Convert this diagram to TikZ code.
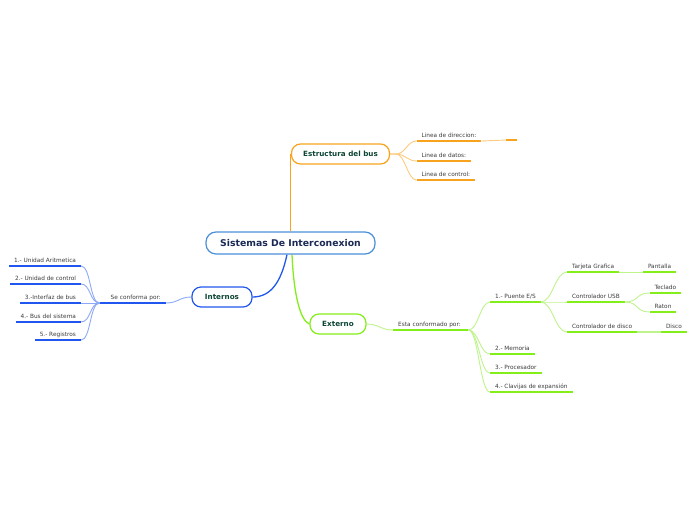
\documentclass[tikz,border=0pt]{standalone}
\usepackage{fontspec}
\setmainfont{DejaVu Sans}
\usetikzlibrary{backgrounds}
\definecolor{cblue}{HTML}{4A90D9}
\definecolor{ctext}{HTML}{1B2A55}
\definecolor{ttext}{HTML}{0D4535}
\definecolor{ltext}{HTML}{3C3C3C}
\definecolor{orM}{HTML}{F8A31E}
\definecolor{orL}{HTML}{FCCB7E}
\definecolor{blM}{HTML}{2157EE}
\definecolor{blL}{HTML}{8DA9F6}
\definecolor{grM}{HTML}{84EE1A}
\definecolor{grL}{HTML}{BFF38C}
\tikzset{
  box/.style={draw, rounded corners=9pt, fill=white, line width=1.2pt, inner sep=0pt,
    minimum height=20pt, font=\fontsize{7.2}{8}\selectfont\bfseries, text=ttext},
  lbl/.style={font=\fontsize{5.8}{7}\selectfont, text=ltext, inner xsep=4.8pt,
    inner ysep=3.4pt, text height=4.3pt, text depth=0pt},
  ulor/.style={orM, line width=2pt},
  ulbl/.style={blM, line width=2pt},
  ulgr/.style={grM, line width=2pt},
  cnor/.style={orL, line width=0.9pt},
  cnbl/.style={blL, line width=0.9pt},
  cngr/.style={grL, line width=0.9pt},
}
\begin{document}
\begin{tikzpicture}[x=1pt,y=-1pt]
\useasboundingbox (0,0) rectangle (696,520);
% main nodes
\node[box, draw=cblue, minimum width=169pt, minimum height=22pt, rounded corners=10pt,
  font=\fontsize{9.3}{11}\selectfont\bfseries, text=ctext] (central) at (290.5,243) {Sistemas De Interconexion};
\node[box, draw=orM, minimum width=98pt] (est) at (340.5,154) {Estructura del bus};
\node[box, draw=blM, minimum width=60pt] (int) at (222,297) {Internos};
\node[box, draw=grM, minimum width=56pt] (ext) at (338,324) {Externo};
% orange labels
\node[lbl, anchor=south west] (dir) at (416.5,141) {Linea de direccion:};
\node[lbl, anchor=south west] (datos) at (416.5,161) {Linea de datos:};
\node[lbl, anchor=south west] (control) at (416.5,180) {Linea de control:};
\node[lbl, anchor=south west, inner xsep=0pt, minimum width=11pt] (stub) at (506,140) {};
% blue labels
\node[lbl, anchor=south east, text width=56pt, align=right, inner xsep=5pt] (seconf) at (166,303) {Se conforma por:};
\node[lbl, anchor=south east] (ua) at (81,266) {1.- Unidad Aritmetica};
\node[lbl, anchor=south east] (uc) at (81,284) {2.- Unidad de control};
\node[lbl, anchor=south east] (ib) at (81,303) {3.-Interfaz de bus};
\node[lbl, anchor=south east] (bs) at (81,322) {4.- Bus del sistema};
\node[lbl, anchor=south east] (reg) at (81,340) {5.- Registros};
% green labels
\node[lbl, anchor=south west, text width=65pt, align=left, inner xsep=5pt] (esta) at (393,330) {Esta conformado por:};
\node[lbl, anchor=south west] (puente) at (490,302) {1.- Puente E/S};
\node[lbl, anchor=south west] (mem) at (490,354) {2.- Memoria};
\node[lbl, anchor=south west] (proc) at (490,373) {3.- Procesador};
\node[lbl, anchor=south west] (clav) at (490,392) {4.- Clavijas de expansión};
\node[lbl, anchor=south west] (tarj) at (567,272) {Tarjeta Grafica};
\node[lbl, anchor=south west] (usb) at (567,302) {Controlador USB};
\node[lbl, anchor=south west] (cdisco) at (567,332) {Controlador de disco};
\node[lbl, anchor=south west] (pant) at (643,272) {Pantalla};
\node[lbl, anchor=south west] (tecl) at (649.5,293) {Teclado};
\node[lbl, anchor=south west] (raton) at (649.5,312) {Raton};
\node[lbl, anchor=south west] (disco) at (661,332) {Disco};
% underlines
\foreach \n in {dir,datos,control,stub} \draw[ulor] (\n.south west) -- (\n.south east);
\foreach \n in {seconf,ua,uc,ib,bs,reg} \draw[ulbl] (\n.south west) -- (\n.south east);
\foreach \n in {esta,puente,mem,proc,clav,tarj,usb,cdisco,pant,tecl,raton,disco} \draw[ulgr] (\n.south west) -- (\n.south east);
% connectors
\begin{pgfonlayer}{background}
\draw[orM, line width=1.5pt] (central.north) -- (central.north |- est.west);
\draw[blM, line width=1.3pt] ([xshift=-3.5pt]central.south) .. controls +(-6,28) and +(18,0) .. (int.east);
\draw[grM, line width=1.3pt] ([xshift=1.5pt]central.south) .. controls +(2,45) and +(-8,-3) .. (ext.west);
\foreach \n in {dir,datos,control} \draw[cnor] (est.east) -- ++(6,0) .. controls +(9,0) and +(-9,0) .. (\n.south west);
\draw[cnor] (dir.south east) .. controls +(12,0) and +(-12,0) .. (stub.south west);
\draw[cnbl] (int.west) .. controls +(-12,0) and +(12,0) .. (seconf.south east);
\foreach \n in {ua,uc,ib,bs,reg} \draw[cnbl] (seconf.south west) .. controls +(-10,0) and +(10,0) .. (\n.south east);
\draw[cngr] (ext.east) .. controls +(12,0) and +(-12,0) .. (esta.south west);
\foreach \n in {puente,mem,proc,clav} \draw[cngr] (esta.south east) .. controls +(10,0) and +(-10,0) .. (\n.south west);
\foreach \n in {tarj,usb,cdisco} \draw[cngr] (puente.south east) .. controls +(12,0) and +(-12,0) .. (\n.south west);
\draw[cngr] (tarj.south east) .. controls +(12,0) and +(-12,0) .. (pant.south west);
\foreach \n in {tecl,raton} \draw[cngr] (usb.south east) .. controls +(14,0) and +(-14,0) .. (\n.south west);
\draw[grL, line width=1.8pt] (cdisco.south east) -- (disco.south west);
\end{pgfonlayer}
\end{tikzpicture}
\end{document}
